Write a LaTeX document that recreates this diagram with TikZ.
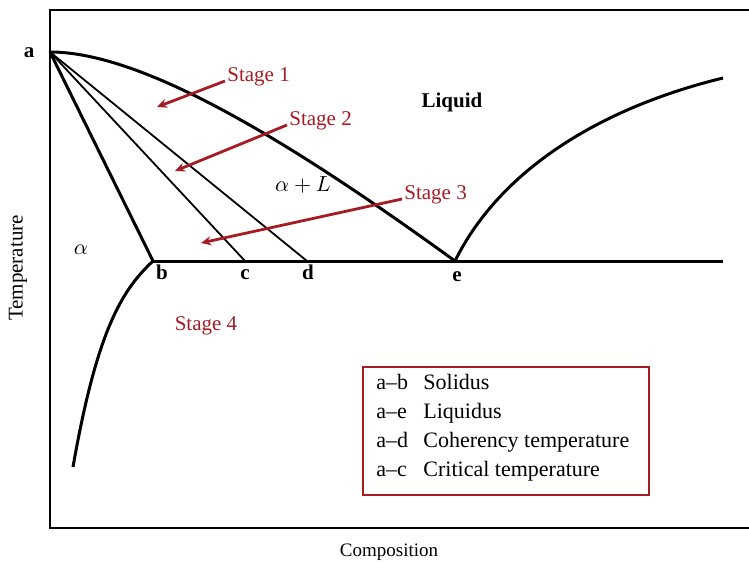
\documentclass[tikz,border=0pt]{standalone}
\usepackage{fontspec}
\setmainfont{Liberation Serif}
\usetikzlibrary{arrows.meta}
\definecolor{stagered}{RGB}{165,28,36}
\tikzset{
  phase/.style={black, line width=1.5pt},
  thinphase/.style={black, line width=0.9pt},
  stagearrow/.style={stagered, line width=1.4pt, -{Stealth[length=5pt, width=4.5pt]}},
  stagelabel/.style={text=stagered, font=\fontsize{10.5}{12}\selectfont},
  ptlabel/.style={font=\fontsize{10.5}{12}\selectfont\bfseries, text height=1.5ex, text depth=0.3ex},
  legendrow/.style={anchor=west, inner sep=0pt, font=\fontsize{11}{13}\selectfont, text height=1.6ex, text depth=0.4ex},
}

\begin{document}
\begin{tikzpicture}[x=0.5pt,y=-0.5pt]
\useasboundingbox (0,0) rectangle (749,568);
% frame
\draw[line width=1pt] (749,10) -- (50,10) -- (50,528) -- (749,528);
% points
\coordinate (a) at (50,52);
\coordinate (b) at (153,261);
\coordinate (c) at (245,261);
\coordinate (d) at (307,261);
\coordinate (e) at (455,261);
\coordinate (rend) at (723,261);
\coordinate (ltop) at (723,78);
\coordinate (solv) at (73,467);
% phase lines
\draw[phase] (a) .. controls (145,52) and (295,145) .. (e);
\draw[phase] (a) -- (b);
\draw[thinphase] (a) -- (c);
\draw[thinphase] (a) -- (d);
\draw[phase] (b) -- (rend);
\draw[phase] (e) .. controls (500,170) and (600,108) .. (ltop);
\draw[phase] (b) .. controls (122,290) and (97,330) .. (solv);
% labels
\node[ptlabel] (la) at (29,52) {a};
\node[ptlabel] (lb) at (162,274) {b};
\node[ptlabel] (lc) at (245,274) {c};
\node[ptlabel] (ld) at (308,274) {d};
\node[ptlabel] (le) at (457,276) {e};
\node[font=\fontsize{10.5}{12}\selectfont\bfseries] (liquid) at (452,102) {Liquid};
\node[font=\fontsize{10.5}{12}\selectfont] (alpha) at (81,250) {$\alpha$};
\node[font=\fontsize{10.5}{12}\selectfont] (alphaL) at (303,185) {$\alpha+L$};
\node[font=\fontsize{10.5}{12}\selectfont, rotate=90] (temp) at (18,268) {Temperature};
\node[font=\fontsize{9.5}{11}\selectfont] (comp) at (389,552) {Composition};
% stages
\node[stagelabel, anchor=west, inner sep=1pt] (s1) at (225,77) {Stage 1};
\node[stagelabel, anchor=west, inner sep=1pt] (s2) at (287,121) {Stage 2};
\node[stagelabel, anchor=west, inner sep=1pt] (s3) at (402,195) {Stage 3};
\node[stagelabel] (s4) at (206,326) {Stage 4};
\coordinate (t1) at (157,107);
\coordinate (t2) at (175,171);
\coordinate (t3) at (201,243);
\draw[stagearrow] ([yshift=-2pt]s1.west) -- (t1);
\draw[stagearrow] ([yshift=-2pt]s2.west) -- (t2);
\draw[stagearrow] ([yshift=-2pt]s3.west) -- (t3);
% legend
\coordinate (lg1) at (363,367);
\coordinate (lg2) at (649,495);
\draw[stagered, line width=1pt] (lg1) rectangle (lg2);
\node[legendrow] (k1) at (376,384) {a–b};
\node[legendrow] (k2) at (376,413) {a–e};
\node[legendrow] (k3) at (376,442) {a–d};
\node[legendrow] (k4) at (376,471) {a–c};
\node[legendrow] (v1) at (423,384) {Solidus};
\node[legendrow] (v2) at (423,413) {Liquidus};
\node[legendrow] (v3) at (423,442) {Coherency temperature};
\node[legendrow] (v4) at (423,471) {Critical temperature};
\end{tikzpicture}
\end{document}
